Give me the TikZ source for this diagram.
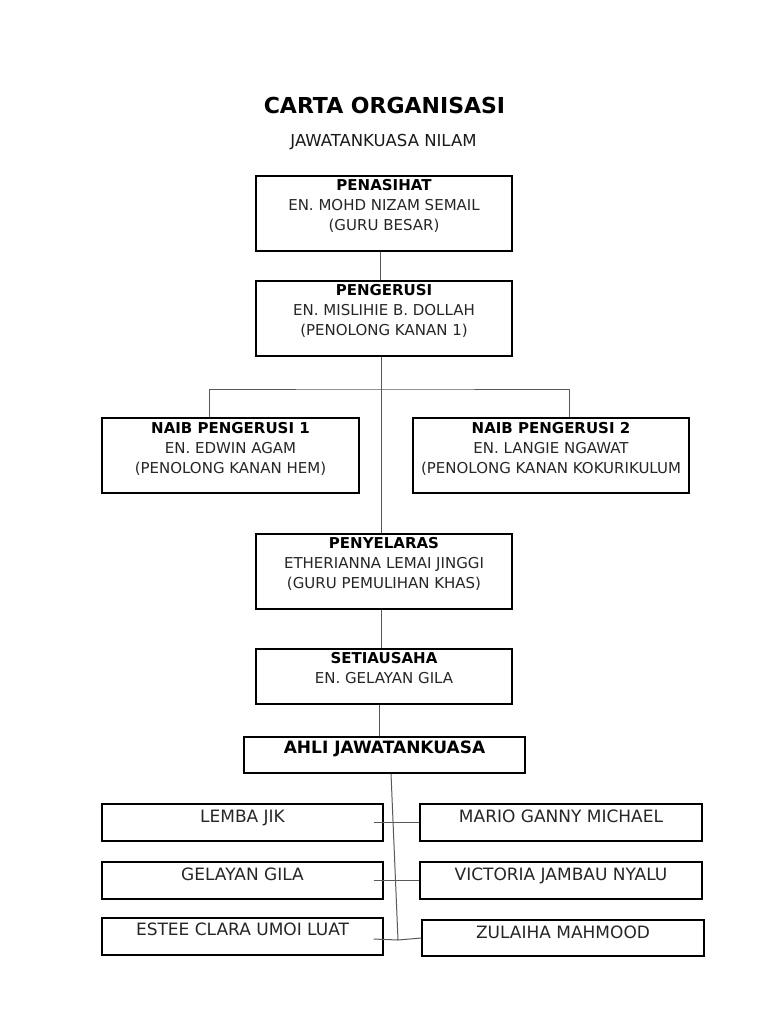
\documentclass[tikz,border=0pt]{standalone}
\usepackage{fontspec}
\setmainfont{DejaVu Sans}
\newcommand{\bxt}[4]{\parbox[c][#2][t]{#1}{\centering\rule{0pt}{#3}#4}}
\begin{document}
\begin{tikzpicture}[x=1pt,y=-1pt,
  box/.style={draw=black, line width=1.1pt, inner sep=0pt, text=black!85},
  fa/.style={font=\fontsize{15}{20}\selectfont},
  fb/.style={font=\fontsize{17}{20}\selectfont},
  conn/.style={draw=black!65, line width=1pt},
  ttl/.style={anchor=base, inner sep=0pt}]
\useasboundingbox[fill=white] (0,0) rectangle (768,1024);

\node[ttl, font=\bfseries\fontsize{22}{26}\selectfont] (title) at (384.5,114) {CARTA ORGANISASI};
\node[ttl, font=\fontsize{16.5}{20}\selectfont, text=black!90] (sub) at (383.5,147) {JAWATANKUASA NILAM};

\node[box,fa] (pen) at (384,213.5) {\bxt{256pt}{75pt}{14.5pt}{{\color{black}\bfseries PENASIHAT}\\EN. MOHD NIZAM SEMAIL\\(GURU BESAR)}};
\node[box,fa] (peng) at (384,318.5) {\bxt{256pt}{75pt}{14pt}{{\color{black}\bfseries PENGERUSI}\\EN. MISLIHIE B. DOLLAH\\(PENOLONG KANAN 1)}};
\node[box,fa] (n1) at (230.5,455.5) {\bxt{257pt}{75pt}{15pt}{{\color{black}\bfseries NAIB PENGERUSI 1}\\EN. EDWIN AGAM\\(PENOLONG KANAN HEM)}};
\node[box,fa] (n2) at (551,455.5) {\bxt{276pt}{75pt}{15pt}{{\color{black}\bfseries NAIB PENGERUSI 2}\\EN. LANGIE NGAWAT\\(PENOLONG KANAN KOKURIKULUM}};
\node[box,fa] (peny) at (384,571.5) {\bxt{256pt}{75pt}{14pt}{{\color{black}\bfseries PENYELARAS}\\ETHERIANNA LEMAI JINGGI\\(GURU PEMULIHAN KHAS)}};
\node[box,fa] (set) at (384,676.5) {\bxt{256pt}{55pt}{14pt}{{\color{black}\bfseries SETIAUSAHA}\\EN. GELAYAN GILA}};
\node[box,fb] (ahli) at (384.5,755) {\bxt{281pt}{36pt}{16pt}{{\color{black}\bfseries AHLI JAWATANKUASA}}};

\node[box,fb] (lemba) at (242.5,822.5) {\bxt{281pt}{37pt}{18pt}{LEMBA JIK}};
\node[box,fb] (mario) at (561,822.5) {\bxt{282pt}{37pt}{18pt}{MARIO GANNY MICHAEL}};
\node[box,fb] (gel) at (242.5,880.5) {\bxt{281pt}{37pt}{18pt}{GELAYAN GILA}};
\node[box,fb] (vic) at (561,880.5) {\bxt{282pt}{37pt}{18pt}{VICTORIA JAMBAU NYALU}};
\node[box,fb] (est) at (242.5,936.5) {\bxt{281pt}{37pt}{17pt}{ESTEE CLARA UMOI LUAT}};
\node[box,fb] (zul) at (563,938) {\bxt{282pt}{36pt}{18pt}{ZULAIHA MAHMOOD}};

\coordinate (j) at (381,389);
\coordinate (vb) at (398,940);
\draw[conn] ([xshift=-4pt]pen.south) -- ([xshift=-4pt]peng.north);
\draw[conn] ([xshift=-3pt]peng.south) -- ([xshift=-3pt]peny.north);
\draw[conn] ([xshift=-21.5pt]n1.north) |- (j) -| ([xshift=18pt]n2.north);
\draw[conn] ([xshift=-3pt]peny.south) -- ([xshift=-3pt]set.north);
\draw[conn] ([xshift=-5pt]set.south) -- ([xshift=-5.5pt]ahli.north);
\draw[conn] ([xshift=6.5pt]ahli.south) -- (vb) -- (zul.west);
\draw[conn] ([xshift=-10pt]lemba.east) -- (mario.west);
\draw[conn] ([xshift=-10pt]gel.east) -- (vic.west);
\draw[conn] ([xshift=-10pt,yshift=-2.5pt]est.east) -- (vb);
\end{tikzpicture}
\end{document}
